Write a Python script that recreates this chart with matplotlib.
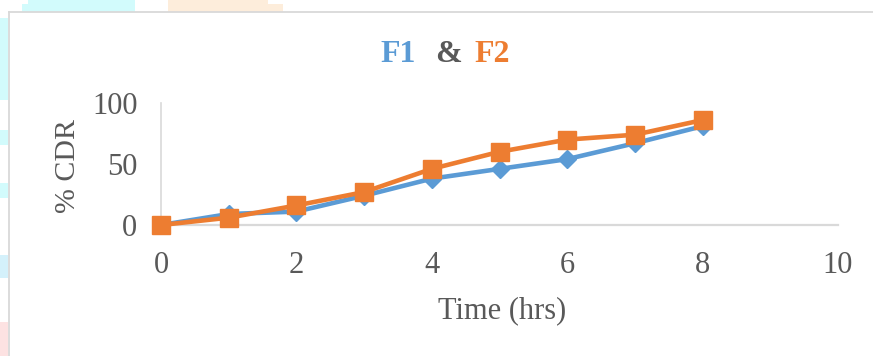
import matplotlib
matplotlib.use("Agg")
import matplotlib.pyplot as plt
from matplotlib.patches import Rectangle
from matplotlib.lines import Line2D

# Dissolution data: cumulative drug release (%) over time
time_hrs = [0, 1, 2, 3, 4, 5, 6, 7, 8]
f1_cdr = [0, 9, 11, 24, 38, 46, 54, 67, 81]
f2_cdr = [0, 6, 16, 27, 46, 60, 70, 74, 86]

x_ticks = [0, 2, 4, 6, 8, 10]
y_ticks = [0, 50, 100]

BLUE = "#5b9bd5"
ORANGE = "#ed7d31"
GREY = "#595959"
FRAME = "#d9d9d9"

W, H = 873, 356
fig = plt.figure(figsize=(W / 100, H / 100), dpi=100)
fig.patch.set_facecolor("white")

def px_rect(x0, y0, x1, y1, color):
    # rectangle given in pixel coordinates measured from the top-left corner
    fig.add_artist(Rectangle((x0 / W, 1 - y1 / H), (x1 - x0) / W, (y1 - y0) / H,
                             transform=fig.transFigure, facecolor=color,
                             edgecolor="none", zorder=0))

# decorative page background around the chart
px_rect(22, 4, 135, 12, "#d2fbfc")
px_rect(28, 0, 135, 4, "#d2fbfc")
px_rect(168, 0, 268, 12, "#fdeddb")
px_rect(268, 4, 283, 12, "#fdeddb")
px_rect(0, 18, 8, 100, "#d2fbfc")
px_rect(0, 130, 8, 145, "#d2fbfc")
px_rect(0, 183, 8, 198, "#d2fbfc")
px_rect(0, 255, 8, 278, "#d4f1fb")
px_rect(0, 322, 8, 356, "#fde2e2")
px_rect(8, 12, 873, 356, "white")

# chart area border
fig.add_artist(Line2D([8.5 / W, 1.0], [1 - 12 / H, 1 - 12 / H], transform=fig.transFigure,
                      color=FRAME, lw=1.3, zorder=1))
fig.add_artist(Line2D([8.5 / W, 8.5 / W], [0, 1 - 12 / H], transform=fig.transFigure,
                      color=FRAME, lw=1.3, zorder=1))

left, right = 161 / W, 838 / W
bottom, top = 1 - 225 / H, 1 - 103 / H
ax = fig.add_axes([left, bottom, right - left, top - bottom])
ax.set_facecolor("none")
ax.set_zorder(2)

ax.plot(time_hrs, f1_cdr, color=BLUE, lw=3.3, marker="D", ms=9.5,
        clip_on=False, zorder=3)
ax.plot(time_hrs, f2_cdr, color=ORANGE, lw=3.3, marker="s", ms=12.5,
        clip_on=False, zorder=4)

ax.set_xlim(0, 10)
ax.set_ylim(0, 100)
ax.set_xticks(x_ticks)
ax.set_yticks(y_ticks)

serif = "Liberation Serif"
for lbl in ax.get_xticklabels() + ax.get_yticklabels():
    lbl.set_fontfamily(serif)
    lbl.set_fontsize(22)
    lbl.set_color(GREY)
ax.tick_params(axis="both", length=0)
ax.tick_params(axis="x", pad=19)
ax.tick_params(axis="y", pad=17)

for side in ("top", "right"):
    ax.spines[side].set_visible(False)
ax.spines["left"].set_color(FRAME)
ax.spines["left"].set_linewidth(1.2)
ax.spines["bottom"].set_color(FRAME)
ax.spines["bottom"].set_linewidth(1.6)

ax.set_xlabel("Time (hrs)", fontfamily=serif, fontsize=22, color=GREY)
ax.xaxis.set_label_coords((502 - 161) / 677, -(296 - 225) / 122)
ax.xaxis.label.set_va("top")
ax.set_ylabel("% CDR", fontfamily=serif, fontsize=21.5, color=GREY)
ax.yaxis.set_label_coords(-(161 - 68) / 677, (225 - 166) / 122)
ax.yaxis.label.set_va("center")

# title in three coloured pieces
title_y = 1 - 61.5 / H
fig.text(380 / W, title_y, "F1", fontfamily=serif, fontweight="bold",
         fontsize=23, color=BLUE, va="baseline", ha="left")
fig.text(435 / W, title_y, "&", fontfamily=serif, fontweight="bold",
         fontsize=23, color=GREY, va="baseline", ha="left")
fig.text(474 / W, title_y, "F2", fontfamily=serif, fontweight="bold",
         fontsize=23, color=ORANGE, va="baseline", ha="left")

fig.savefig("out.png", dpi=100)
